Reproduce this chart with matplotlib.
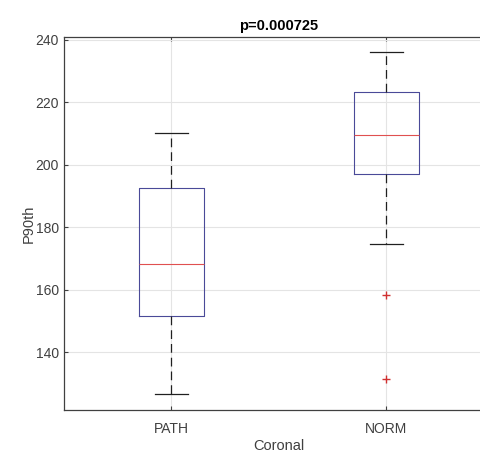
import matplotlib
matplotlib.use("Agg")
import matplotlib.pyplot as plt

# values
groups = ["PATH", "NORM"]
whisker_low = [126.5, 174.6]
q1 = [151.6, 197.0]
median = [168.2, 209.7]
q3 = [192.5, 223.3]
whisker_high = [210.3, 236.0]
outliers = [[], [158.4, 131.4]]

plt.rcParams["font.family"] = ["Liberation Sans", "DejaVu Sans"]

stats = []
for i, name in enumerate(groups):
    stats.append({
        "label": name,
        "whislo": whisker_low[i],
        "q1": q1[i],
        "med": median[i],
        "q3": q3[i],
        "whishi": whisker_high[i],
        "fliers": outliers[i],
    })

fig = plt.figure(figsize=(4.81, 4.55), dpi=100)
ax = fig.add_axes([0.133, 0.099, 0.894, 0.82])

ax.bxp(stats, positions=[1, 2], widths=0.3, showfliers=True,
       boxprops=dict(color="#4a4a98", linewidth=0.8),
       medianprops=dict(color="#e05050", linewidth=0.8),
       whiskerprops=dict(color="#202020", linewidth=0.9, linestyle=(0, (7, 4))),
       capprops=dict(color="#202020", linewidth=0.9),
       capwidths=0.15,
       flierprops=dict(marker="+", markeredgecolor="#d03030",
                       markersize=6, linestyle="none"))

ax.set_xlim(0.5, 2.5)
ax.set_ylim(121.5, 241)
ax.set_yticks([140, 160, 180, 200, 220, 240])
ax.grid(True, color="#e4e4e4", linewidth=0.8)
ax.set_axisbelow(True)
ax.tick_params(direction="in", length=3, labelsize=10, colors="#404040",
               top=True, right=True)
ax.tick_params(axis="x", pad=9)
for sp in ax.spines.values():
    sp.set_color("#404040")
    sp.set_linewidth(0.9)

ax.set_title("p=0.000725", fontsize=10.5, fontweight="bold", pad=5)
ax.set_ylabel("P90th", fontsize=10.5, color="#404040", labelpad=0)
ax.set_xlabel("Coronal", fontsize=10.5, color="#404040", labelpad=2)

fig.savefig("out.png", dpi=100)
